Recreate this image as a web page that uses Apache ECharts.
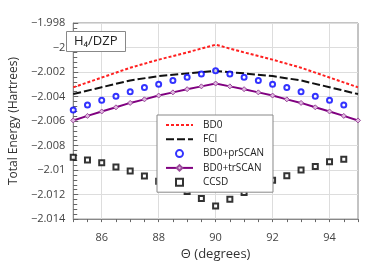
<!DOCTYPE html>
<html>
<head>
<meta charset="utf-8">
<script src="https://cdn.jsdelivr.net/npm/echarts@6/dist/echarts.min.js"></script>
<style>html,body{margin:0;padding:0;background:#fff}#c{width:382px;height:266px}</style>
</head>
<body>
<div id="c"></div>
<script>
// ---- data ----
var lineTheta = [85, 86, 87, 88, 89, 90, 91, 92, 93, 94, 95];
var bd0 = [-2.00325, -2.00245, -2.00165, -2.00099, -2.0004, -1.99977, -2.0004, -2.00099, -2.00165, -2.00245, -2.00325];
var fci = [-2.0038, -2.00324, -2.00269, -2.00233, -2.00211, -2.00191, -2.00211, -2.00233, -2.00269, -2.00324, -2.0038];

var markTheta = [85, 85.5, 86, 86.5, 87, 87.5, 88, 88.5, 89, 89.5, 90, 90.5, 91, 91.5, 92, 92.5, 93, 93.5, 94, 94.5];
var prScan = [-2.00509, -2.0047, -2.00431, -2.00397, -2.00361, -2.00327, -2.00299, -2.0027, -2.00242, -2.00216, -2.0019,
              -2.00216, -2.00242, -2.0027, -2.00299, -2.00327, -2.00361, -2.00397, -2.00431, -2.0047];
var ccsd = [-2.00896, -2.00917, -2.0094, -2.00974, -2.01008, -2.01049, -2.01091, -2.01135, -2.01174, -2.01231, -2.01294,
            -2.01239, -2.01182, -2.01122, -2.01083, -2.01047, -2.0100, -2.00971, -2.00932, -2.00911];

var trTheta = [85, 85.5, 86, 86.5, 87, 87.5, 88, 88.5, 89, 89.5, 90, 90.5, 91, 91.5, 92, 92.5, 93, 93.5, 94, 94.5, 95];
var trScan = [-2.00595, -2.00558, -2.00522, -2.00488, -2.00452, -2.00423, -2.00392, -2.00366, -2.0034, -2.00317, -2.00294,
              -2.00317, -2.0034, -2.00366, -2.00392, -2.00423, -2.00452, -2.00488, -2.00522, -2.00558, -2.00595];

var xGridValues = [86, 88, 90, 92, 94];
var seriesNames = ['BD0', 'FCI', 'BD0+prSCAN', 'BD0+trSCAN', 'CCSD'];

function zip(xs, ys) { return xs.map(function (x, i) { return [x, ys[i]]; }); }

var FONT = 'Open Sans';
var hidden = { color: 'rgba(0,0,0,0)', borderColor: 'rgba(0,0,0,0)', borderWidth: 0 };
var chart = echarts.init(document.getElementById('c'), null, { renderer: 'canvas' });
var option = {
  animation: false,
  backgroundColor: '#fff',
  textStyle: { fontFamily: FONT },
  title: {
    text: 'H₄/DZP',
    left: 66, top: 31,
    padding: [4, 8, 4, 8],
    borderColor: '#888', borderWidth: 1, backgroundColor: '#fff',
    textStyle: { fontFamily: FONT, fontSize: 13, fontWeight: 'normal', color: '#222' }
  },
  grid: { left: 57, right: 24, top: 23, bottom: 37, show: true, borderColor: '#888', borderWidth: 1, backgroundColor: 'transparent' },
  legend: {
    z: 50,
    data: [
      { name: seriesNames[0], itemStyle: hidden },
      { name: seriesNames[1], itemStyle: hidden },
      { name: seriesNames[2] },
      { name: seriesNames[3] },
      { name: seriesNames[4], icon: 'path://M0,0L10,0L10,10L0,10Z' }
    ],
    orient: 'vertical',
    left: 157, top: 115,
    padding: [5, 9, 5, 8],
    itemWidth: 27, itemHeight: 7, itemGap: 4.3,
    backgroundColor: '#fff', borderColor: '#888', borderWidth: 1,
    textStyle: { fontFamily: FONT, fontSize: 10, color: '#222', padding: [0, 0, 0, 5] }
  },
  xAxis: {
    type: 'value', min: 85, max: 95, interval: 0.5,
    name: 'Θ (degrees)', nameLocation: 'middle', nameGap: 27,
    nameTextStyle: { fontFamily: FONT, fontSize: 13, color: '#333' },
    axisLine: { lineStyle: { color: '#888' } },
    axisTick: { show: true, length: 3, lineStyle: { color: '#666' } },
    axisLabel: {
      fontFamily: FONT, fontSize: 11, color: '#444', margin: 13,
      formatter: function (v) { return Math.abs(v - Math.round(v / 2) * 2) < 1e-6 ? String(Math.round(v)) : ''; }
    },
    splitLine: { show: false }
  },
  yAxis: {
    type: 'value', min: -2.014, max: -1.998, interval: 0.002,
    name: 'Total Energy (Hartrees)', nameLocation: 'middle', nameGap: 47,
    nameTextStyle: { fontFamily: FONT, fontSize: 12, color: '#333' },
    axisLine: { show: true, lineStyle: { color: '#888' } },
    axisTick: { show: true, inside: true, length: 5, lineStyle: { color: '#666' } },
    minorTick: { show: true, splitNumber: 5, length: 4, lineStyle: { color: '#666' } },
    axisLabel: {
      fontFamily: FONT, fontSize: 11, color: '#444', margin: 8,
      formatter: function (v) { var s = String(parseFloat(v.toFixed(4))); return s.replace('-', '−'); }
    },
    splitLine: { show: true, lineStyle: { color: '#ddd', width: 1 } }
  },
  series: [
    {
      name: 'gridlines', type: 'line', data: [], z: 1, silent: true,
      markLine: {
        silent: true, symbol: 'none', label: { show: false }, animation: false, z: 1,
        lineStyle: { type: 'solid', color: '#ddd', width: 1 },
        data: xGridValues.map(function (v) { return { xAxis: v }; })
      }
    },
    {
      name: 'BD0', type: 'line', data: zip(lineTheta, bd0), showSymbol: false, symbol: 'none',
      lineStyle: { color: '#ff2020', width: 2, type: [3, 2] }, itemStyle: { color: '#ff2020' }, z: 3
    },
    {
      name: 'FCI', type: 'line', data: zip(lineTheta, fci), showSymbol: false, symbol: 'none',
      lineStyle: { color: '#111', width: 2, type: [8, 3] }, itemStyle: { color: '#111' }, z: 3
    },
    {
      name: 'BD0+prSCAN', type: 'scatter', data: zip(markTheta, prScan), symbol: 'circle', symbolSize: 5,
      itemStyle: { color: '#fff', borderColor: '#0000ff', borderWidth: 2 }, z: 4
    },
    {
      name: 'BD0+trSCAN', type: 'line', data: zip(trTheta, trScan), symbol: 'diamond', symbolSize: 5, showSymbol: true,
      lineStyle: { color: '#800080', width: 2 },
      itemStyle: { color: '#e0b8e0', borderColor: '#9a4a9a', borderWidth: 1 }, z: 4
    },
    {
      name: 'CCSD', type: 'scatter', data: zip(markTheta, ccsd), symbol: 'rect', symbolSize: 5,
      itemStyle: { color: '#fff', borderColor: '#000', borderWidth: 2 }, z: 4
    }
  ]
};
chart.setOption(option);
</script>
</body>
</html>
